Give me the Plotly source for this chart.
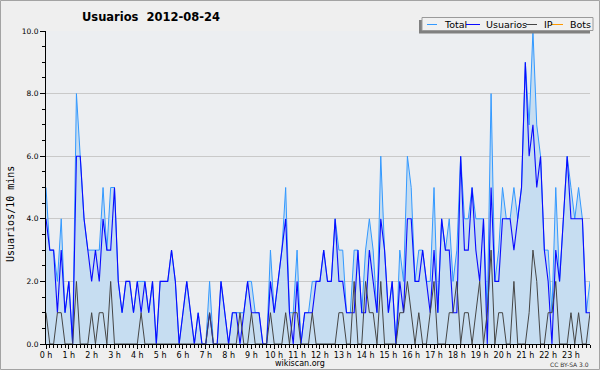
import pandas as pd
import plotly.graph_objects as go

# ---------------- data (10-minute intervals, 2012-08-24) ----------------
times = pd.date_range("2012-08-24 00:00", periods=144, freq="10min")

total = [
    5, 3, 3, 2, 4, 1, 2, 0, 8, 6, 4, 3, 3, 3, 3, 5, 3, 5, 5, 2, 1, 2, 2, 1,
    2, 2, 2, 1, 2, 0, 2, 2, 2, 3, 2, 0, 1, 2, 1, 0, 1, 0, 0, 2, 0, 0, 2, 1,
    0, 1, 1, 1, 1, 2, 2, 1, 1, 0, 0, 3, 1, 2, 3, 5, 1, 1, 3, 0, 1, 1, 2, 2,
    2, 3, 2, 2, 4, 3, 3, 1, 1, 3, 3, 1, 3, 4, 3, 1, 6, 3, 1, 2, 0, 3, 2, 6,
    5, 2, 3, 3, 2, 2, 5, 1, 4, 3, 4, 2, 3, 6, 4, 4, 5, 4, 4, 4, 1, 8, 2, 3,
    5, 4, 4, 5, 4, 5, 9, 7, 10, 7, 6, 3, 3, 1, 5, 2, 4, 6, 5, 4, 5, 4, 1, 2,
]
usuarios = [
    4, 3, 3, 1, 3, 1, 2, 0, 6, 6, 4, 3, 2, 3, 2, 4, 3, 3, 5, 2, 1, 2, 2, 1,
    2, 1, 2, 1, 2, 0, 2, 2, 2, 3, 2, 0, 1, 2, 1, 0, 1, 0, 0, 1, 0, 0, 2, 1,
    0, 1, 1, 0, 1, 2, 1, 1, 1, 0, 0, 2, 1, 2, 3, 4, 1, 0, 2, 0, 1, 1, 1, 2,
    2, 3, 2, 2, 4, 2, 2, 1, 1, 1, 3, 1, 1, 3, 2, 1, 4, 3, 1, 2, 0, 2, 1, 4,
    4, 2, 2, 3, 2, 1, 3, 1, 4, 3, 3, 1, 1, 6, 3, 3, 5, 3, 2, 4, 0, 5, 2, 2,
    4, 4, 4, 3, 4, 5, 9, 6, 7, 5, 6, 3, 2, 0, 3, 2, 4, 6, 4, 4, 4, 4, 1, 1,
]
ip = [
    1, 0, 0, 1, 1, 0, 0, 0, 2, 0, 0, 0, 1, 0, 1, 1, 0, 2, 0, 0, 0, 0, 0, 0,
    0, 1, 0, 0, 0, 0, 0, 0, 0, 0, 0, 0, 0, 0, 0, 0, 0, 0, 0, 1, 0, 0, 0, 0,
    0, 0, 0, 1, 0, 0, 1, 0, 0, 0, 0, 1, 0, 0, 0, 1, 0, 1, 1, 0, 0, 0, 1, 0,
    0, 0, 0, 0, 0, 1, 1, 0, 0, 2, 0, 0, 2, 1, 1, 0, 2, 0, 0, 0, 0, 1, 1, 2,
    1, 0, 1, 0, 0, 1, 2, 0, 0, 0, 1, 1, 2, 0, 1, 1, 0, 1, 2, 0, 1, 3, 0, 1,
    1, 0, 0, 2, 0, 0, 0, 1, 3, 2, 0, 0, 1, 1, 2, 0, 0, 0, 1, 0, 1, 0, 0, 1,
]
bots = [
    0, 0, 0, 0, 0, 0, 0, 0, 0, 0, 0, 0, 0, 0, 0, 0, 0, 0, 0, 0, 0, 0, 0, 0,
    0, 0, 0, 0, 0, 0, 0, 0, 0, 0, 0, 0, 0, 0, 0, 0, 0, 0, 0, 0, 0, 0, 0, 0,
    0, 0, 0, 0, 0, 0, 0, 0, 0, 0, 0, 0, 0, 0, 0, 0, 0, 0, 0, 0, 0, 0, 0, 0,
    0, 0, 0, 0, 0, 0, 0, 0, 0, 0, 0, 0, 0, 0, 0, 0, 0, 0, 0, 0, 0, 0, 0, 0,
    0, 0, 0, 0, 0, 0, 0, 0, 0, 0, 0, 0, 0, 0, 0, 0, 0, 0, 0, 0, 0, 0, 0, 0,
    0, 0, 0, 0, 0, 0, 0, 0, 0, 0, 0, 0, 0, 0, 0, 0, 0, 0, 0, 0, 0, 0, 0, 0,
]

series_names = ["Total", "Usuarios", "IP", "Bots"]
series_colors = ["#3399ff", "#0a0aff", "#454545", "#ff9900"]
fill_color = "rgb(198,221,241)"

title_text = "Usuarios\u00a0\u00a02012-08-24"
y_title = "Usuarios/10 mins"
footer_text = "wikiscan.org"
license_text = "CC BY-SA 3.0"

# ---------------- layout geometry (pixels) ----------------
W, H = 600, 370
L, R, T, B = 46, 10, 31, 26
PW, PH = W - L - R, H - T - B


def px(xp):
    return (xp - L) / PW


def py(yp):
    return (H - B - yp) / PH


fig = go.Figure()
values = {"Total": total, "Usuarios": usuarios, "IP": ip, "Bots": bots}
colors = dict(zip(series_names, series_colors))
# draw Bots first so the black x axis line covers its zero line
for name in ["Bots", "Total", "Usuarios", "IP"]:
    kw = {}
    if name == "Total":
        kw = dict(fill="tozeroy", fillcolor=fill_color)
    fig.add_trace(go.Scatter(
        x=times, y=values[name], name=name, mode="lines",
        line=dict(color=colors[name], width=1.1 if name == "Usuarios" else 1),
        showlegend=False, hoverinfo="skip", **kw))

fig.update_layout(
    width=W, height=H,
    margin=dict(l=L, r=R, t=T, b=B, pad=0),
    paper_bgcolor="#efefef",
    plot_bgcolor="#eceef1",
    font=dict(family="DejaVu Sans", color="#000000"),
    title=dict(text=title_text, x=151 / W, xref="container", xanchor="center",
               y=1 - 17 / H, yref="container", yanchor="middle",
               font=dict(family="DejaVu Sans", size=11.5, weight="bold", color="#000")),
    showlegend=False,
)

fig.update_xaxes(
    type="date",
    range=[times[0], times[-1]],
    tick0="2012-08-24 00:00", dtick=3600000,
    tickformat="%-H h",
    ticks="outside", ticklen=4, tickcolor="#000", tickwidth=1,
    ticklabelstandoff=-1,
    minor=dict(dtick=600000, ticks="outside", ticklen=3, tickcolor="#000", showgrid=False),
    showgrid=False, zeroline=False,
    showline=True, linecolor="#000", linewidth=1,
    tickfont=dict(family="DejaVu Sans", size=8, color="#000"),
    fixedrange=True,
)
fig.update_yaxes(
    range=[0, 10], dtick=2, tick0=0, tickformat=".1f",
    ticks="outside", ticklen=5, tickcolor="#000", tickwidth=1,
    minor=dict(dtick=0.5, ticks="outside", ticklen=3, tickcolor="#000", showgrid=False),
    showgrid=True, gridcolor="#c9c9c9", gridwidth=1,
    zeroline=False,
    showline=True, linecolor="#000", linewidth=1,
    tickfont=dict(family="DejaVu Sans", size=7.5, color="#000"),
    fixedrange=True,
)

shapes = []
annotations = []

# outer frame
shapes.append(dict(type="rect", xref="paper", yref="paper",
                   x0=px(0.5), x1=px(W - 0.5), y0=py(H - 0.5), y1=py(0.5),
                   line=dict(color="#a3a3a3", width=1), fillcolor="rgba(0,0,0,0)",
                   layer="above"))

# legend box (with shadow)
shapes.append(dict(type="rect", xref="paper", yref="paper",
                   x0=px(419), x1=px(590), y0=py(33.5), y1=py(20),
                   line=dict(width=0), fillcolor="#808080", layer="above"))
shapes.append(dict(type="rect", xref="paper", yref="paper",
                   x0=px(422), x1=px(593), y0=py(30.5), y1=py(17.5),
                   line=dict(color="#9a9a9a", width=1), fillcolor="#f0f0f0", layer="above"))

leg_y = 24.5
leg_lines = [(427, 437), (466, 480), (526, 537), (551, 563)]
leg_text_x = [442, 483.5, 541.5, 567.5]
for (a, b), tx, name, col in zip(leg_lines, leg_text_x, series_names, series_colors):
    shapes.append(dict(type="line", xref="paper", yref="paper",
                       x0=px(a), x1=px(b), y0=py(leg_y), y1=py(leg_y),
                       line=dict(color=col, width=1), layer="above"))
    annotations.append(dict(text=name, xref="paper", yref="paper",
                            x=px(tx), y=py(leg_y), xanchor="left", yanchor="middle",
                            showarrow=False,
                            font=dict(family="DejaVu Sans", size=9.5, color="#000")))

# y axis title
annotations.append(dict(text=y_title, xref="paper", yref="paper",
                        x=px(11), y=py(214), xanchor="center", yanchor="middle",
                        textangle=-90, showarrow=False,
                        font=dict(family="DejaVu Sans Mono", size=10, color="#000")))
# footer
annotations.append(dict(text=footer_text, xref="paper", yref="paper",
                        x=px(300), y=py(363.5), xanchor="center", yanchor="middle",
                        showarrow=False,
                        font=dict(family="DejaVu Sans", size=8, color="#000")))
annotations.append(dict(text=license_text, xref="paper", yref="paper",
                        x=px(569), y=py(364), xanchor="center", yanchor="middle",
                        showarrow=False,
                        font=dict(family="DejaVu Sans", size=6, color="#333")))

fig.update_layout(shapes=shapes, annotations=annotations)

fig.write_html("out.html", config={"displayModeBar": False},
               post_script="document.body.style.margin='0px';document.body.style.overflow='hidden';")
